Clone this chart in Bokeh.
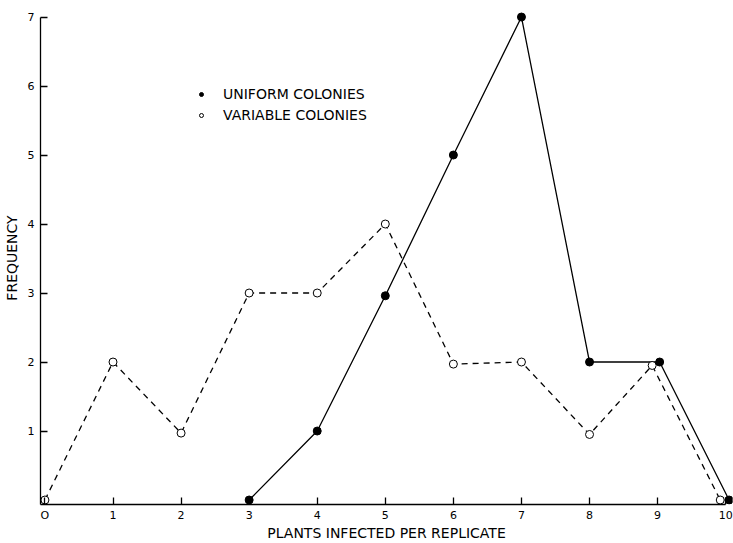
from bokeh.plotting import figure
from bokeh.models import Range1d, FixedTicker, Legend, LegendItem
from bokeh.embed import file_html
from bokeh.resources import INLINE

# Data
uniform_x = [3, 4, 5, 6, 7, 8, 9.03, 10.05]
uniform_y = [0, 1, 2.96, 5, 7, 2, 2, 0]
variable_x = [0, 1, 2, 3, 4, 5, 6, 7, 8, 8.92, 9.92]
variable_y = [0, 2, 0.97, 3, 3, 4, 1.97, 2, 0.95, 1.95, 0]
x_ticks = [0, 1, 2, 3, 4, 5, 6, 7, 8, 9, 10]
x_tick_labels = {0: "O"}
y_ticks = [1, 2, 3, 4, 5, 6, 7]
series_labels = ["UNIFORM COLONIES", "VARIABLE COLONIES"]
x_title = "PLANTS INFECTED PER REPLICATE"
y_title = "FREQUENCY"

FONT = "DejaVu Sans"

p = figure(width=733, height=543,
           x_range=Range1d(-0.065, 10.1), y_range=Range1d(-0.065, 7.08),
           output_backend="svg", toolbar_location=None,
           min_border_left=40, min_border_right=1, min_border_top=11,
           min_border_bottom=38)
p.outline_line_color = None
p.grid.visible = False
p.background_fill_color = "white"
p.border_fill_color = "white"

for ax in (p.xaxis[0], p.yaxis[0]):
    ax.axis_line_color = "black"
    ax.axis_line_width = 1.3
    ax.major_tick_line_color = "black"
    ax.major_tick_line_width = 1.3
    ax.major_tick_in = 7
    ax.major_tick_out = 0
    ax.minor_tick_line_color = None
    ax.major_label_text_font = FONT
    ax.major_label_text_font_size = "11px"
    ax.major_label_text_color = "black"
    ax.axis_label_text_font = FONT
    ax.axis_label_text_font_size = "14px"
    ax.axis_label_text_font_style = "normal"
    ax.axis_label_text_color = "black"

p.xaxis.ticker = FixedTicker(ticks=x_ticks)
p.xaxis.major_label_overrides = x_tick_labels
p.yaxis.ticker = FixedTicker(ticks=y_ticks)
p.xaxis.bounds = (-0.065, 10)
p.yaxis.bounds = (-0.065, 7)
p.xaxis.major_label_standoff = 4
p.yaxis.major_label_standoff = 6
p.xaxis.axis_label = x_title
p.yaxis.axis_label = y_title
p.xaxis.axis_label_standoff = 0
p.yaxis.axis_label_standoff = 5

# Lines
p.line(variable_x, variable_y, line_color="black", line_width=1.3, line_dash="6 5")
p.line(uniform_x, uniform_y, line_color="black", line_width=1.3)

# Markers
v_sc = p.scatter(variable_x, variable_y, marker="circle", size=8,
                 fill_color="white", line_color="black", line_width=1)
u_sc = p.scatter(uniform_x, uniform_y, marker="circle", size=8,
                 fill_color="black", line_color="black", line_width=1)

legend = Legend(items=[LegendItem(label=series_labels[0], renderers=[u_sc]),
                       LegendItem(label=series_labels[1], renderers=[v_sc])],
                location=(156, 381), orientation="vertical",
                border_line_color=None, background_fill_alpha=0,
                padding=0, margin=0, spacing=5,
                glyph_width=10, glyph_height=14, label_height=14,
                label_standoff=17,
                label_text_font=FONT, label_text_font_size="14px",
                label_text_color="black")
p.add_layout(legend)

open("out.html", "w").write(file_html(p, INLINE))
